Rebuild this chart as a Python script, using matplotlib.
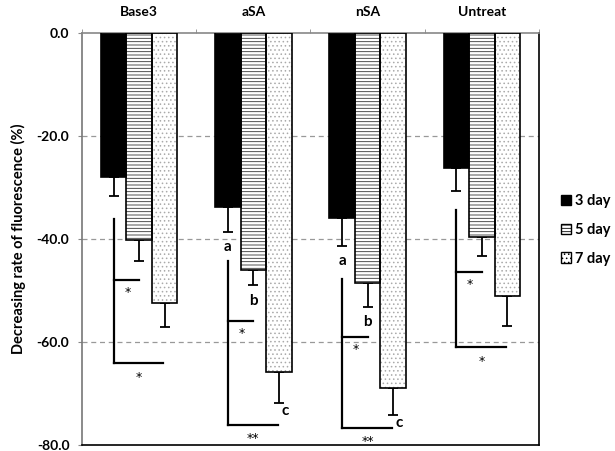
import numpy as np
import matplotlib
matplotlib.use("Agg")
import matplotlib.pyplot as plt
from matplotlib.patches import Patch

plt.rcParams['font.family'] = ['Lato', 'DejaVu Sans']
plt.rcParams['hatch.linewidth'] = 0.6

groups = ['Base3', 'aSA', 'nSA', 'Untreat']
days = ['3 day', '5 day', '7 day']

# mean values (%) and lower error bars
day3 = [-27.9, -33.7, -35.9, -26.2]
day5 = [-40.1, -46.1, -48.6, -39.7]
day7 = [-52.5, -65.8, -68.9, -51.0]
err3 = [3.7, 5.0, 5.5, 4.5]
err5 = [4.2, 2.9, 4.6, 3.6]
err7 = [4.6, 6.0, 5.3, 5.9]

# significance brackets: vertical start, end, upper/lower tie levels
br_top = [-36.2, -44.3, -47.8, -34.4]
br_bot = [-64.1, -76.1, -76.7, -61.0]
br_mid = [-48.0, -56.0, -59.1, -46.4]
star_mid = ['*', '*', '*', '*']
star_bot = ['*', '**', '**', '*']
letters = {1: ['a', 'b', 'c'], 2: ['a', 'b', 'c']}

fig = plt.figure(figsize=(6.15, 4.51), dpi=100)
ax = fig.add_axes([0.1333, 0.0133, 0.743, 0.9135])

x = np.arange(len(groups))
w = 0.223
series = [day3, day5, day7]
errs = [err3, err5, err7]
fills = ['black', 'white', 'white']
hatches = [None, '-----', '....']
hcolors = ['black', '#333333', '#aaaaaa']

for k in range(3):
    pos = x + (k - 1) * w
    ax.bar(pos, series[k], w, color=fills[k], hatch=hatches[k],
           edgecolor=hcolors[k], linewidth=0, zorder=2)
    ax.bar(pos, series[k], w, fill=False, edgecolor='black',
           linewidth=1.2, zorder=3)
    ax.errorbar(pos, series[k], yerr=[errs[k], np.zeros(4)], fmt='none',
                ecolor='black', elinewidth=1.3, capsize=3.5, capthick=1.3,
                zorder=1)

for i in range(len(groups)):
    xa = x[i] - w
    ax.plot([xa, xa], [br_top[i], br_bot[i]], color='black', lw=1.6, zorder=4)
    ax.plot([xa, x[i]], [br_mid[i], br_mid[i]], color='black', lw=1.6, zorder=4)
    ax.plot([xa, x[i] + w * 0.95], [br_bot[i], br_bot[i]], color='black',
            lw=1.6, zorder=4)
    ax.text(xa + 0.12, br_mid[i] - 2.4, star_mid[i], ha='center', va='center',
            fontsize=9, family='DejaVu Sans', zorder=5)
    ax.text(x[i], br_bot[i] - 2.7, star_bot[i], ha='center', va='center',
            fontsize=9, family='DejaVu Sans', zorder=5)

for i, labs in letters.items():
    ax.text(x[i] - w, series[0][i] - errs[0][i] - 2.9, labs[0], ha='center',
            va='center', fontsize=11, fontweight='bold')
    ax.text(x[i], series[1][i] - errs[1][i] - 3.0, labs[1], ha='center',
            va='center', fontsize=11, fontweight='bold')
    ax.text(x[i] + w * 1.25, series[2][i] - errs[2][i] - 1.6, labs[2],
            ha='center', va='center', fontsize=11, fontweight='bold')

ax.set_xlim(-0.5, 3.5)
ax.set_ylim(-80, 0)
ax.set_yticks([0, -20, -40, -60, -80])
ax.set_yticklabels(['0.0', '-20.0', '-40.0', '-60.0', '-80.0'],
                   fontsize=10, fontweight='bold')
for yv in [-20, -40, -60]:
    ax.axhline(yv, color='#999999', lw=0.9, ls=(0, (4, 3)), zorder=0)

ax.xaxis.tick_top()
ax.set_xticks(x)
ax.set_xticklabels(groups, fontsize=10, fontweight='bold')
ax.tick_params(axis='x', which='major', length=0, pad=11)
ax.set_xticks(np.arange(-0.5, 4, 1), minor=True)
ax.tick_params(axis='x', which='minor', length=3, direction='out',
               color='#888888')
ax.tick_params(axis='y', length=3, direction='out', color='#888888', pad=6)

ax.spines['left'].set_color('#777777')
ax.spines['top'].set_color('#888888')
ax.spines['right'].set_color('black')
ax.spines['bottom'].set_color('black')
for s in ax.spines.values():
    s.set_linewidth(1.2)

ax.set_ylabel('Decreasing rate of fluorescence (%)', fontsize=10.5,
              fontweight='bold', labelpad=8)

handles = [Patch(facecolor=fills[k], edgecolor='black', hatch=hatches[k],
                 linewidth=1.0) for k in range(3)]
fig.legend(handles, days, loc='center left', bbox_to_anchor=(0.912, 0.49),
           frameon=False, handlelength=0.7, handleheight=0.7,
           handletextpad=0.3, labelspacing=1.0, borderpad=0,
           borderaxespad=0, prop={'weight': 'bold', 'size': 10.5})

fig.savefig('out.png', dpi=100)
